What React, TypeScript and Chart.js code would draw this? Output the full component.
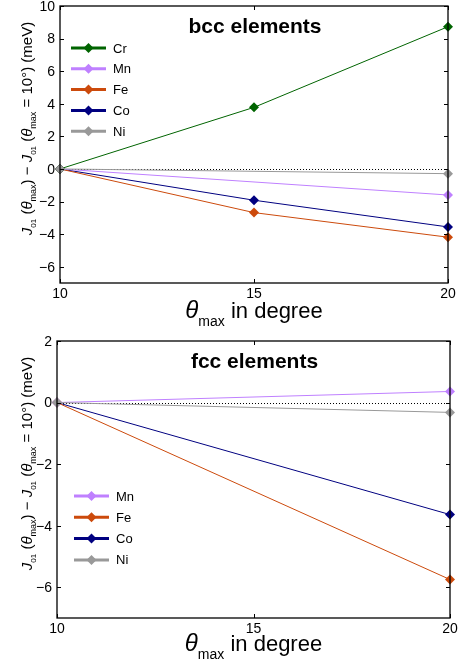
import React, { useEffect, useRef } from "react";
import { Chart, registerables } from "chart.js";

Chart.register(...registerables);

// ---------- data ----------
const bccX = [10, 15, 20];
const bccCr = [0, 3.78, 8.73];
const bccMn = [0, null, -1.6];
const bccFe = [0, -2.68, -4.19];
const bccCo = [0, -1.92, -3.56];
const bccNi = [0, null, -0.29];

const fccX = [10, 20];
const fccMn = [0, 0.36];
const fccFe = [0, -5.75];
const fccCo = [0, -3.64];
const fccNi = [0, -0.32];

const xTicks = [10, 15, 20];
const bccYTicks = [-6, -4, -2, 0, 2, 4, 6, 8, 10];
const fccYTicks = [-6, -4, -2, 0, 2];

const bccTitle = "bcc elements";
const fccTitle = "fcc elements";

const COLORS: Record<string, string> = {
  Cr: "#006400",
  Mn: "#bf80ff",
  Fe: "#cc4a0c",
  Co: "#000080",
  Ni: "#999999",
};

const FONT = "'Liberation Sans', Arial, Helvetica, sans-serif";

function mkDataset(label: string, xs: number[], ys: (number | null)[], order: number) {
  return {
    label,
    data: xs.map((x, i) => ({ x, y: ys[i] })),
    borderColor: COLORS[label],
    backgroundColor: COLORS[label],
    borderWidth: 1,
    pointStyle: "rectRot",
    pointRadius: 5,
    pointHoverRadius: 5,
    pointBorderWidth: 0,
    spanGaps: true,
    clip: false,
    order,
  };
}

type Seg = { t: string; size: number; italic?: boolean; bold?: boolean; dy?: number };

function drawSegs(ctx: CanvasRenderingContext2D, segs: Seg[], cx: number, baseline: number) {
  const fontOf = (s: Seg) => `${s.italic ? "italic " : ""}${s.bold ? "bold " : ""}${s.size}px ${FONT}`;
  let total = 0;
  for (const s of segs) {
    ctx.font = fontOf(s);
    total += ctx.measureText(s.t).width;
  }
  let x = cx - total / 2;
  ctx.textAlign = "left";
  ctx.textBaseline = "alphabetic";
  for (const s of segs) {
    ctx.font = fontOf(s);
    ctx.fillText(s.t, x, baseline + (s.dy || 0));
    x += ctx.measureText(s.t).width;
  }
}

const yTitleSegs: Seg[] = [
  { t: "J", size: 15, italic: true },
  { t: "01", size: 8, dy: 4 },
  { t: " (", size: 15 },
  { t: "θ", size: 15, italic: true },
  { t: "max", size: 9, dy: 4 },
  { t: ") − ", size: 15 },
  { t: "J", size: 15, italic: true },
  { t: "01", size: 8, dy: 4 },
  { t: " (", size: 15 },
  { t: "θ", size: 15, italic: true },
  { t: "max", size: 9, dy: 4 },
  { t: " = 10°) (meV)", size: 15 },
];

const xTitleSegs: Seg[] = [
  { t: "θ", size: 24, italic: true },
  { t: "max", size: 14, dy: 8 },
  { t: " in degree", size: 22 },
];

const fmt = (v: number) => (v < 0 ? "−" + Math.abs(v) : String(v));

const decorPlugin = {
  id: "decor",
  beforeDatasetsDraw(chart: any) {
    const { ctx, chartArea } = chart;
    const y0 = chart.scales.y.getPixelForValue(0);
    ctx.save();
    ctx.strokeStyle = "#000";
    ctx.lineWidth = 1;
    ctx.setLineDash([1, 2]);
    ctx.beginPath();
    ctx.moveTo(chartArea.left, Math.round(y0) + 0.5);
    ctx.lineTo(chartArea.right, Math.round(y0) + 0.5);
    ctx.stroke();
    ctx.restore();
  },
  afterDraw(chart: any, _args: any, opts: any) {
    const { ctx, chartArea } = chart;
    const { left, right, top, bottom } = chartArea;
    const xs = chart.scales.x;
    const ys = chart.scales.y;
    ctx.save();
    // frame
    ctx.strokeStyle = "#000";
    ctx.lineWidth = 1.3;
    ctx.setLineDash([]);
    ctx.strokeRect(left, top, right - left, bottom - top);
    // inward ticks
    ctx.lineWidth = 1;
    const tl = 4;
    ctx.beginPath();
    for (const t of ys.ticks) {
      const py = Math.round(ys.getPixelForValue(t.value)) + 0.5;
      ctx.moveTo(left, py);
      ctx.lineTo(left + tl, py);
      ctx.moveTo(right, py);
      ctx.lineTo(right - tl, py);
    }
    for (const t of xs.ticks) {
      const px = Math.round(xs.getPixelForValue(t.value)) + 0.5;
      ctx.moveTo(px, bottom);
      ctx.lineTo(px, bottom - tl);
      ctx.moveTo(px, top);
      ctx.lineTo(px, top + tl);
    }
    ctx.stroke();

    // tick labels
    ctx.fillStyle = "#000";
    ctx.font = `14px ${FONT}`;
    ctx.textAlign = "right";
    ctx.textBaseline = "middle";
    for (const t of ys.ticks) {
      ctx.fillText(fmt(t.value), left - 5, ys.getPixelForValue(t.value) + 1);
    }
    ctx.textAlign = "center";
    ctx.textBaseline = "top";
    for (const t of xs.ticks) {
      ctx.fillText(fmt(t.value), xs.getPixelForValue(t.value), bottom + 4);
    }

    // title in plot
    ctx.font = `bold 21px ${FONT}`;
    ctx.textAlign = "center";
    ctx.textBaseline = "alphabetic";
    ctx.fillText(opts.title, (left + right) / 2 + 1, top + 27);

    // legend
    const items: string[] = opts.legend;
    items.forEach((name, i) => {
      const ly = top + opts.legendY + i * opts.legendGap;
      const lx = left + opts.legendX;
      ctx.strokeStyle = COLORS[name];
      ctx.fillStyle = COLORS[name];
      ctx.lineWidth = 3;
      ctx.beginPath();
      ctx.moveTo(lx, ly);
      ctx.lineTo(lx + 35, ly);
      ctx.stroke();
      const cx = lx + 17.5;
      const r = 5;
      ctx.beginPath();
      ctx.moveTo(cx, ly - r);
      ctx.lineTo(cx + r, ly);
      ctx.lineTo(cx, ly + r);
      ctx.lineTo(cx - r, ly);
      ctx.closePath();
      ctx.fill();
      ctx.fillStyle = "#000";
      ctx.font = `13px ${FONT}`;
      ctx.textAlign = "left";
      ctx.textBaseline = "middle";
      ctx.fillText(name, lx + 42, ly + 1);
    });

    // y title (rotated)
    ctx.fillStyle = "#000";
    ctx.save();
    ctx.translate(opts.yTitleX, (top + bottom) / 2 - 16);
    ctx.rotate(-Math.PI / 2);
    drawSegs(ctx, yTitleSegs, 0, 6);
    ctx.restore();

    // x title
    drawSegs(ctx, xTitleSegs, (left + right) / 2, 318);
    ctx.restore();
  },
};

function makeConfig(
  datasets: any[],
  yTicks: number[],
  layout: { top: number; right: number; axisW: number; axisH: number },
  decor: any
) {
  return {
    type: "line",
    data: { datasets },
    plugins: [decorPlugin],
    options: {
      animation: false,
      responsive: false,
      maintainAspectRatio: false,
      layout: { padding: { top: layout.top, right: layout.right, left: 0, bottom: 0 } },
      plugins: {
        legend: { display: false },
        tooltip: { enabled: false },
        decor,
      },
      scales: {
        x: {
          type: "linear",
          min: 10,
          max: 20,
          grid: { display: false, drawTicks: false },
          border: { display: false },
          afterBuildTicks: (s: any) => {
            s.ticks = xTicks.map((v) => ({ value: v }));
          },
          afterFit: (s: any) => {
            s.height = layout.axisH;
          },
          ticks: { display: false },
        },
        y: {
          type: "linear",
          min: -7,
          max: yTicks[yTicks.length - 1],
          grid: { display: false, drawTicks: false },
          border: { display: false },
          afterBuildTicks: (s: any) => {
            s.ticks = yTicks.map((v) => ({ value: v }));
          },
          afterFit: (s: any) => {
            s.width = layout.axisW;
          },
          ticks: { display: false },
        },
      },
    },
  };
}

function ChartCanvas({ config }: { config: any }) {
  const ref = useRef<HTMLCanvasElement>(null);
  useEffect(() => {
    const chart = new Chart(ref.current as HTMLCanvasElement, config);
    return () => chart.destroy();
  }, []);
  return <canvas ref={ref} width={465} height={333} style={{ display: "block", width: 465, height: 333 }} />;
}

const bccConfig = makeConfig(
  [
    mkDataset("Ni", bccX, bccNi, 0),
    mkDataset("Cr", bccX, bccCr, 1),
    mkDataset("Mn", bccX, bccMn, 2),
    mkDataset("Fe", bccX, bccFe, 3),
    mkDataset("Co", bccX, bccCo, 4),
  ],
  bccYTicks,
  { top: 6, right: 17, axisW: 60, axisH: 50 },
  { title: bccTitle, legend: ["Cr", "Mn", "Fe", "Co", "Ni"], legendX: 11, legendY: 42, legendGap: 20.8, yTitleX: 26 }
);

const fccConfig = makeConfig(
  [
    mkDataset("Ni", fccX, fccNi, 0),
    mkDataset("Mn", fccX, fccMn, 2),
    mkDataset("Fe", fccX, fccFe, 3),
    mkDataset("Co", fccX, fccCo, 4),
  ],
  fccYTicks,
  { top: 8, right: 15, axisW: 57, axisH: 48 },
  { title: fccTitle, legend: ["Mn", "Fe", "Co", "Ni"], legendX: 17, legendY: 155, legendGap: 21.3, yTitleX: 26 }
);

export default function App() {
  return (
    <div style={{ position: "fixed", left: 0, top: 0, width: 465, height: 666, background: "#fff" }}>
      <ChartCanvas config={bccConfig} />
      <ChartCanvas config={fccConfig} />
    </div>
  );
}
